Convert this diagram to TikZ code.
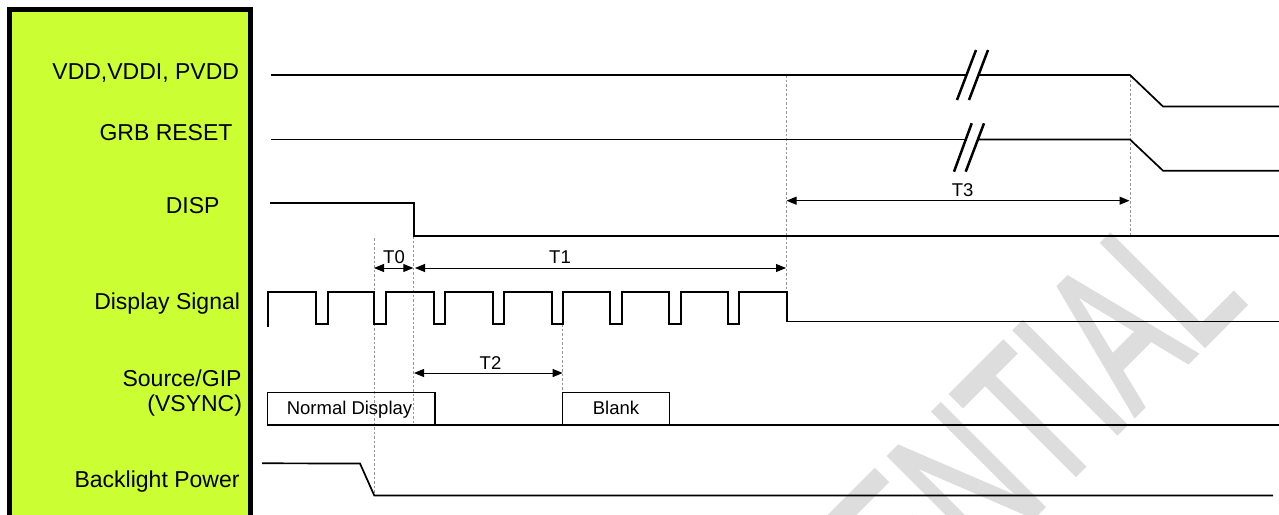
\documentclass[tikz,border=0pt]{standalone}
\usepackage{fontspec}
\setmainfont{Liberation Sans}
\newfontfamily\wmfont[FakeBold=2]{Liberation Sans}
\usetikzlibrary{arrows.meta}
\definecolor{limegreen}{RGB}{204,255,51}
\definecolor{wmgray}{RGB}{221,221,221}
\definecolor{guidegray}{RGB}{150,150,150}
\begin{document}
\begin{tikzpicture}[x=1pt,y=-1pt,
  sig/.style={line width=1.7pt, line join=miter},
  boxline/.style={line width=1.5pt},
  guide/.style={guidegray, line width=1pt, dash pattern=on 2.5pt off 2pt},
  dim/.style={line width=1pt, {Triangle[length=10pt,width=8pt]}-{Triangle[length=10pt,width=8pt]}},
  lbl/.style={font=\fontsize{23}{27}\selectfont, anchor=base east, inner sep=0, outer sep=0},
  tlbl/.style={font=\fontsize{18.5}{22}\selectfont, anchor=base, inner sep=0, outer sep=0},
  brk/.style={line width=2.5pt}
]
\useasboundingbox (0,0) rectangle (1279,514);

% watermark
\begin{scope}
\clip (0,0) rectangle (1279,514);
\node[rotate=45, anchor=base west, inner sep=0, outer sep=0, text=wmgray,
      font=\wmfont\fontsize{210}{210}\selectfont] (wmark) at (562.6,987.4)
      {\scalebox{0.63}[1]{CONFIDENTIAL}};
\end{scope}

% green label panel
\draw[line width=5pt, fill=limegreen] (9.2,9.2) rectangle (250.5,520);

% labels
\node[lbl] (lvdd)  at (239,79)    {VDD,VDDI, PVDD};
\node[lbl] (lgrb)  at (232.5,140) {GRB RESET};
\node[lbl] (ldisp) at (219.5,213) {DISP};
\node[lbl] (lds)   at (240,309.5) {Display Signal};
\node[lbl] (lsrc)  at (241.5,386) {Source/GIP};
\node[lbl] (lvs)   at (242,411)   {(VSYNC)};
\node[lbl] (lbp)   at (239.5,487.5) {Backlight Power};

% guide lines
\draw[guide] (374,238) -- (374,495);
\draw[guide] (413.7,236) -- (413.7,425);
\draw[guide] (562.7,324) -- (562.7,392.5);
\draw[guide] (786.5,75) -- (786.5,292);
\draw[guide] (1130,75) -- (1130,236);

% VDD
\draw[sig] (271,75) -- (966.5,75);
\draw[sig] (978.5,75) -- (1130,75) -- (1163,106.5) -- (1279,106.5);
\draw[brk] (957,100) -- (976,50);
\draw[brk] (969,100) -- (988,50);

% GRB RESET
\draw[sig] (271,139.5) -- (965.8,139.5);
\draw[sig] (978,139.5) -- (1130,139.5) -- (1163,170.7) -- (1279,170.7);
\draw[brk] (954,171.7) -- (971.7,123.3);
\draw[brk] (965.7,171.7) -- (984,123.3);

% DISP
\draw[sig] (270,202.7) -- (413.7,202.7) -- (413.7,236) -- (1279,236);

% Display signal
\draw[sig] (268.3,327) -- (268.3,292) -- (316,292) -- (316,324) -- (328,324) -- (328,292)
  -- (374.3,292) -- (374.3,324) -- (386.3,324) -- (386.3,292)
  -- (433.7,292) -- (433.7,324) -- (445,324) -- (445,292)
  -- (492.7,292) -- (492.7,324) -- (504.3,324) -- (504.3,292)
  -- (551.7,292) -- (551.7,324) -- (562.7,324) -- (562.7,292)
  -- (610,292) -- (610,324) -- (621.7,324) -- (621.7,292)
  -- (668.7,292) -- (668.7,324) -- (680.7,324) -- (680.7,292)
  -- (728,292) -- (728,324) -- (739.3,324) -- (739.3,292)
  -- (786.7,292) -- (786.7,321.5) -- (1279,321.5);

% Source/GIP (VSYNC)
\draw[boxline] (267.7,392.7) rectangle (435,425);
\draw[boxline] (435,425) -- (562.7,425);
\draw[boxline] (562.7,392.5) rectangle (669.3,425);
\draw[boxline] (669.3,425) -- (1279,425);
\node[tlbl] (tnd) at (349.5,414.3) {Normal Display};
\node[tlbl] (tbl) at (616,414.3) {Blank};

% Backlight power
\draw[sig] (262,463.3) -- (360,463.5) -- (374.3,495.5) -- (1273,495.5);

% timing arrows
\coordinate (t0a) at (374,268);
\coordinate (t0b) at (413.3,268);
\coordinate (t1a) at (415,268);
\coordinate (t1b) at (786,268);
\coordinate (t2a) at (414,373);
\coordinate (t2b) at (562.7,373);
\coordinate (t3a) at (786.5,200.7);
\coordinate (t3b) at (1129.5,200.7);
\draw[dim] (t0a) -- (t0b);
\draw[dim] (t1a) -- (t1b);
\draw[dim] (t2a) -- (t2b);
\draw[dim] (t3a) -- (t3b);
\node[tlbl] (lt0) at (394,263.5) {T0};
\node[tlbl] (lt1) at (560,263.5) {T1};
\node[tlbl] (lt2) at (490.5,369.5) {T2};
\node[tlbl] (lt3) at (962.7,196.5) {T3};
\end{tikzpicture}
\end{document}
